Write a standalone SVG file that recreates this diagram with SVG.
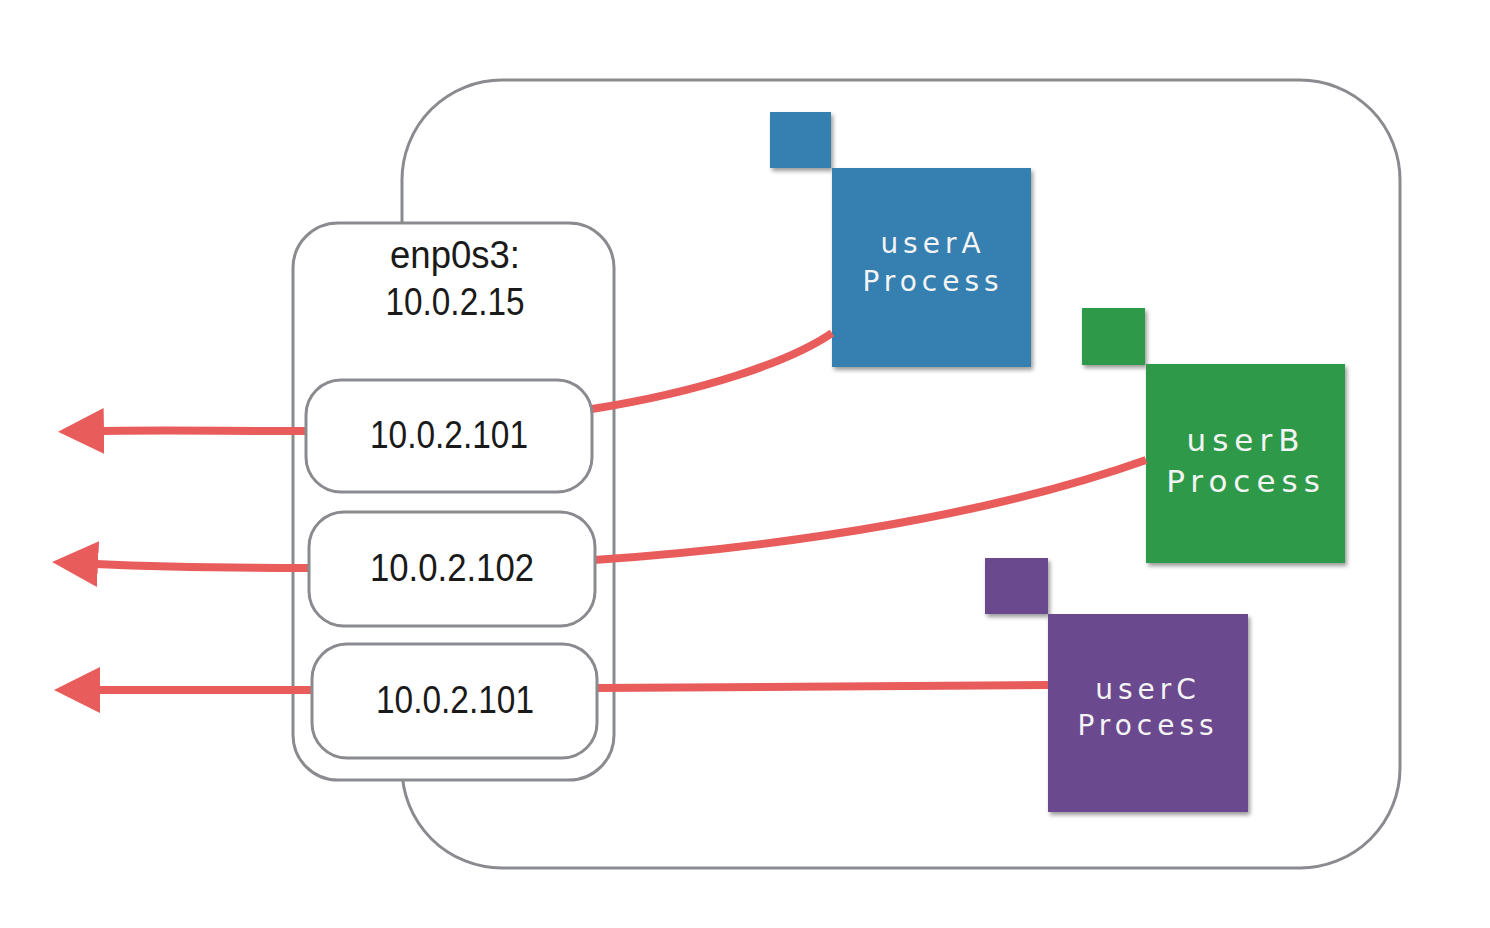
<svg xmlns="http://www.w3.org/2000/svg" width="1490" height="928" viewBox="0 0 1490 928">
<defs>
<style>
.frame{fill:#fff;stroke:#8a8b8f;stroke-width:3}
.iface{fill:#fff;stroke:#8a8b8f;stroke-width:3}
.ip{font-family:"Liberation Sans",Arial,sans-serif;font-size:38px;fill:#1a1a1a;text-anchor:middle}
.ptxt{font-family:"DejaVu Sans",sans-serif;fill:#f4f4f4;text-anchor:middle}
.conn{fill:none;stroke:#e85c5c;stroke-width:8}
</style>
<filter id="sh" x="-10%" y="-10%" width="130%" height="130%">
<feDropShadow dx="2" dy="3" stdDeviation="2" flood-color="#000" flood-opacity="0.4"/>
</filter>
<marker id="arr" markerUnits="userSpaceOnUse" markerWidth="48" markerHeight="48" viewBox="0 0 48 48" refX="2" refY="24" orient="auto">
<polygon points="0,1 46,24 0,47" fill="#e85c5c"/>
</marker>
</defs>
<rect width="1490" height="928" fill="#fff"/>
<g id="host">
<rect class="frame" x="402" y="80" width="998" height="788" rx="100" ry="100"/>
</g>
<g id="userA">
<rect x="770" y="112" width="61" height="56" fill="#3680b0" filter="url(#sh)"/>
<rect x="832" y="168" width="199" height="199" fill="#3680b0" filter="url(#sh)"/>
<text class="ptxt" x="933" y="253" font-size="28" letter-spacing="5">userA</text>
<text class="ptxt" x="933" y="291" font-size="28" letter-spacing="5">Process</text>
</g>
<g id="userB">
<rect x="1082" y="308" width="63" height="57" fill="#2f9a48" filter="url(#sh)"/>
<rect x="1146" y="364" width="199" height="199" fill="#2f9a48" filter="url(#sh)"/>
<text class="ptxt" x="1246" y="451" font-size="31" letter-spacing="6">userB</text>
<text class="ptxt" x="1246" y="492" font-size="31" letter-spacing="6">Process</text>
</g>
<g id="userC">
<rect x="985" y="558" width="63" height="56" fill="#6a4a8e" filter="url(#sh)"/>
<rect x="1048" y="614" width="200" height="198" fill="#6a4a8e" filter="url(#sh)"/>
<text class="ptxt" x="1148" y="699" font-size="28" letter-spacing="5">userC</text>
<text class="ptxt" x="1148" y="735" font-size="28" letter-spacing="5">Process</text>
</g>
<g id="enp0s3">
<rect class="iface" x="293" y="223" width="321" height="557" rx="45" ry="45"/>
<text class="ip" x="455" y="268" textLength="130" lengthAdjust="spacingAndGlyphs">enp0s3:</text>
<text class="ip" x="455" y="315" textLength="139" lengthAdjust="spacingAndGlyphs">10.0.2.15</text>
</g>
<g id="connectors">
<path class="conn" d="M592,409 C700,392 790,362 832,333"/>
<path class="conn" d="M594,560 C800,546 1000,512 1146,460"/>
<path class="conn" d="M596,688 L1048,685"/>
<path class="conn" d="M306,431 C220,431 160,430 102,431" marker-end="url(#arr)"/>
<path class="conn" d="M309,568 C220,568 160,567 96,564" marker-end="url(#arr)"/>
<path class="conn" d="M312,690 L98,690" marker-end="url(#arr)"/>
</g>
<g id="ip1">
<rect class="iface" x="306" y="380" width="286" height="112" rx="35" ry="35"/>
<text class="ip" x="449" y="448" textLength="158" lengthAdjust="spacingAndGlyphs">10.0.2.101</text>
</g>
<g id="ip2">
<rect class="iface" x="309" y="512" width="286" height="114" rx="35" ry="35"/>
<text class="ip" x="452" y="581" textLength="164" lengthAdjust="spacingAndGlyphs">10.0.2.102</text>
</g>
<g id="ip3">
<rect class="iface" x="312" y="644" width="285" height="114" rx="35" ry="35"/>
<text class="ip" x="455" y="713" textLength="158" lengthAdjust="spacingAndGlyphs">10.0.2.101</text>
</g>
</svg>
